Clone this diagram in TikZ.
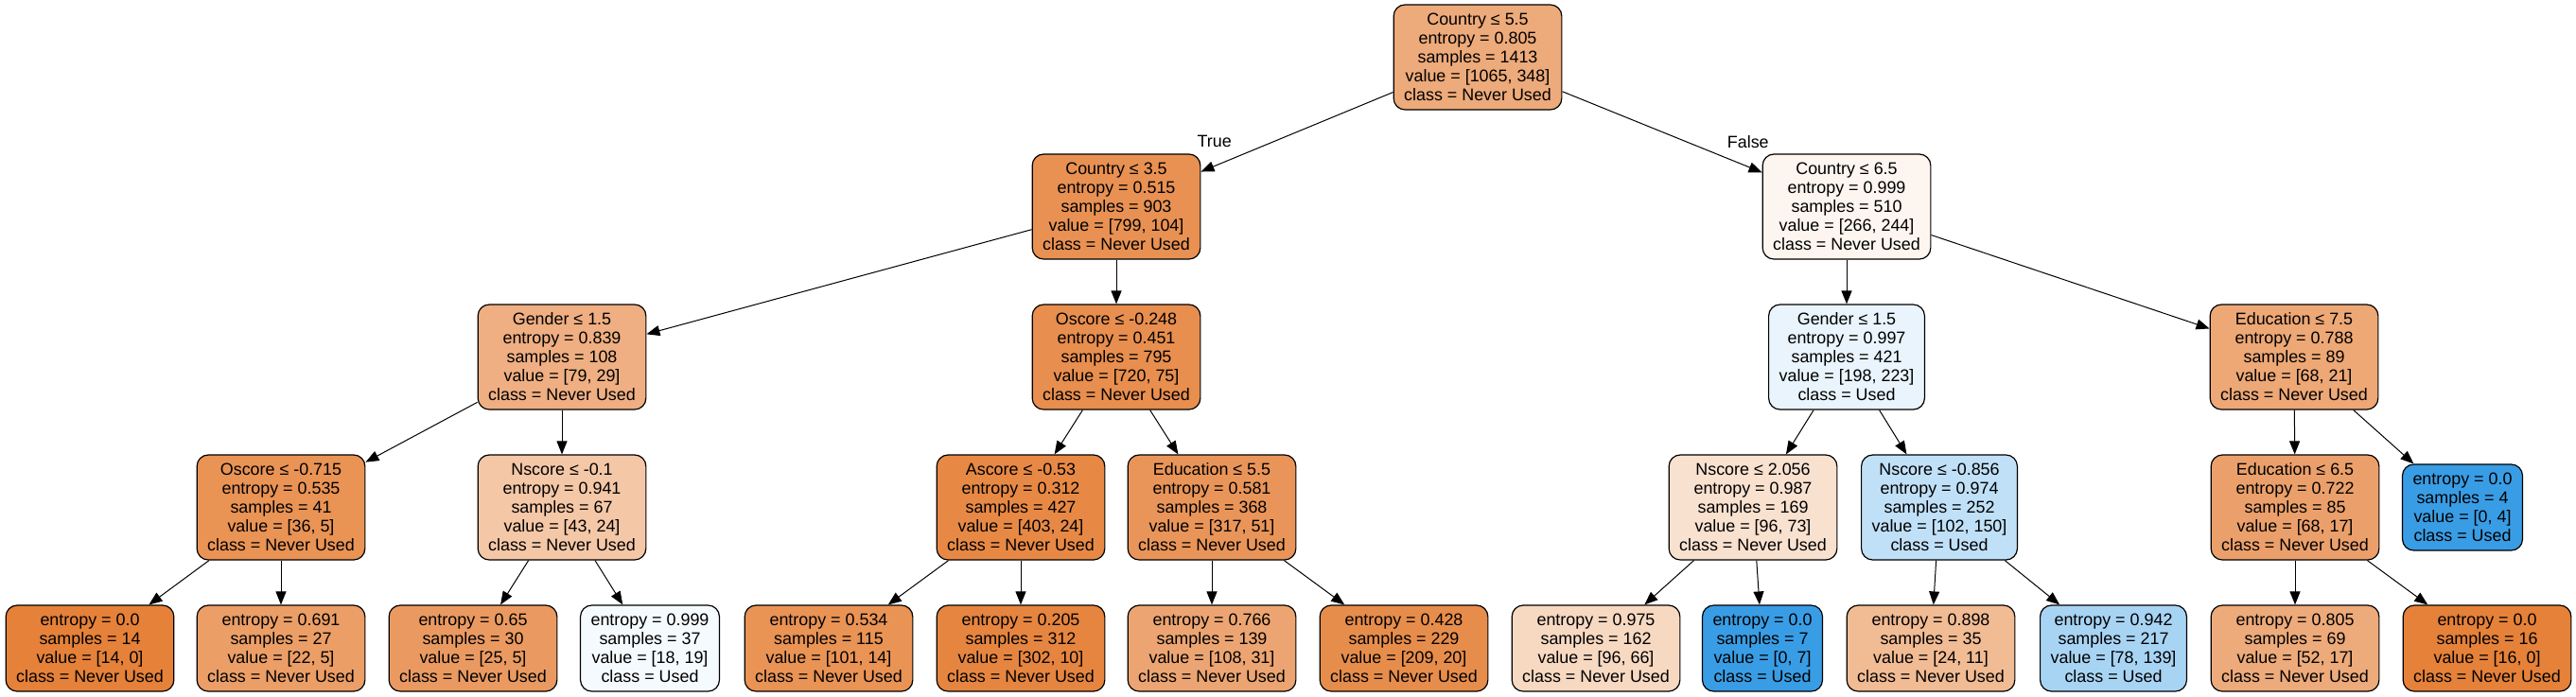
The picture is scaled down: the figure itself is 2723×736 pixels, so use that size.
\documentclass[tikz,border=0pt]{standalone}
\usepackage{fontspec}
\setmainfont{Liberation Sans}
\usepackage{xcolor}
\usetikzlibrary{arrows.meta}
\definecolor{neverColor}{RGB}{229,129,57}
\definecolor{usedColor}{RGB}{57,157,229}

\begin{document}
\begin{tikzpicture}[
    x=0.5pt, y=-0.5pt,
    font=\fontsize{8.95}{10}\selectfont,
    split/.style={
        rectangle,
        rounded corners=6pt,
        draw=black,
        line width=0.6pt,
        align=center,
        inner xsep=5.5pt,
        inner ysep=0pt,
        minimum height=55.5pt
    },
    leaf/.style={
        split,
        minimum height=45.5pt
    },
    flecha/.style={
        -{Triangle[length=7pt,width=5.5pt]},
        line width=0.5pt
    }
]
    \useasboundingbox (0,0) rectangle (2723,736);

    % level 0 and 1
    \node[split, fill=neverColor!67.3] (country55) at (1562,60.5) {Country ≤ 5.5\\entropy = 0.805\\samples = 1413\\value = [1065, 348]\\class = Never Used};
    \node[split, fill=neverColor!87.0] (country35) at (1180,218.5) {Country ≤ 3.5\\entropy = 0.515\\samples = 903\\value = [799, 104]\\class = Never Used};
    \node[split, fill=neverColor!8.3] (country65) at (1952,218.5) {Country ≤ 6.5\\entropy = 0.999\\samples = 510\\value = [266, 244]\\class = Never Used};

    % level 2
    \node[split, fill=neverColor!63.3] (gender15a) at (594,377.5) {Gender ≤ 1.5\\entropy = 0.839\\samples = 108\\value = [79, 29]\\class = Never Used};
    \node[split, fill=neverColor!89.6] (oscore248) at (1180,377.5) {Oscore ≤ -0.248\\entropy = 0.451\\samples = 795\\value = [720, 75]\\class = Never Used};
    \node[split, fill=usedColor!11.2] (gender15b) at (1952,377.5) {Gender ≤ 1.5\\entropy = 0.997\\samples = 421\\value = [198, 223]\\class = Used};
    \node[split, fill=neverColor!69.1] (edu75) at (2425,377.5) {Education ≤ 7.5\\entropy = 0.788\\samples = 89\\value = [68, 21]\\class = Never Used};

    % level 3
    \node[split, fill=neverColor!86.1] (oscore715) at (297,536.5) {Oscore ≤ -0.715\\entropy = 0.535\\samples = 41\\value = [36, 5]\\class = Never Used};
    \node[split, fill=neverColor!44.2] (nscore01) at (594,536.5) {Nscore ≤ -0.1\\entropy = 0.941\\samples = 67\\value = [43, 24]\\class = Never Used};
    \node[split, fill=neverColor!94.0] (ascore053) at (1079,536.5) {Ascore ≤ -0.53\\entropy = 0.312\\samples = 427\\value = [403, 24]\\class = Never Used};
    \node[split, fill=neverColor!83.9] (edu55) at (1281,536.5) {Education ≤ 5.5\\entropy = 0.581\\samples = 368\\value = [317, 51]\\class = Never Used};
    \node[split, fill=neverColor!24.0] (nscore2056) at (1853,536.5) {Nscore ≤ 2.056\\entropy = 0.987\\samples = 169\\value = [96, 73]\\class = Never Used};
    \node[split, fill=usedColor!32.0] (nscore0856) at (2050,536.5) {Nscore ≤ -0.856\\entropy = 0.974\\samples = 252\\value = [102, 150]\\class = Used};
    \node[split, fill=neverColor!75.0] (edu65) at (2426,536.5) {Education ≤ 6.5\\entropy = 0.722\\samples = 85\\value = [68, 17]\\class = Never Used};
    \node[leaf, fill=usedColor] (leaf15) at (2603,536.5) {entropy = 0.0\\samples = 4\\value = [0, 4]\\class = Used};

    % level 4
    \node[leaf, fill=neverColor] (leaf1) at (95,685.5) {entropy = 0.0\\samples = 14\\value = [14, 0]\\class = Never Used};
    \node[leaf, fill=neverColor!77.3] (leaf2) at (297,685.5) {entropy = 0.691\\samples = 27\\value = [22, 5]\\class = Never Used};
    \node[leaf, fill=neverColor!80.0] (leaf3) at (500,685.5) {entropy = 0.65\\samples = 30\\value = [25, 5]\\class = Never Used};
    \node[leaf, fill=usedColor!5.3] (leaf4) at (687,685.5) {entropy = 0.999\\samples = 37\\value = [18, 19]\\class = Used};
    \node[leaf, fill=neverColor!86.1] (leaf5) at (876,685.5) {entropy = 0.534\\samples = 115\\value = [101, 14]\\class = Never Used};
    \node[leaf, fill=neverColor!96.7] (leaf6) at (1079,685.5) {entropy = 0.205\\samples = 312\\value = [302, 10]\\class = Never Used};
    \node[leaf, fill=neverColor!71.3] (leaf7) at (1281,685.5) {entropy = 0.766\\samples = 139\\value = [108, 31]\\class = Never Used};
    \node[leaf, fill=neverColor!90.4] (leaf8) at (1484,685.5) {entropy = 0.428\\samples = 229\\value = [209, 20]\\class = Never Used};
    \node[leaf, fill=neverColor!31.3] (leaf9) at (1687,685.5) {entropy = 0.975\\samples = 162\\value = [96, 66]\\class = Never Used};
    \node[leaf, fill=usedColor] (leaf10) at (1863,685.5) {entropy = 0.0\\samples = 7\\value = [0, 7]\\class = Used};
    \node[leaf, fill=neverColor!54.2] (leaf11) at (2041,685.5) {entropy = 0.898\\samples = 35\\value = [24, 11]\\class = Never Used};
    \node[leaf, fill=usedColor!43.9] (leaf12) at (2234,685.5) {entropy = 0.942\\samples = 217\\value = [78, 139]\\class = Used};
    \node[leaf, fill=neverColor!67.3] (leaf13) at (2426,685.5) {entropy = 0.805\\samples = 69\\value = [52, 17]\\class = Never Used};
    \node[leaf, fill=neverColor] (leaf14) at (2629,685.5) {entropy = 0.0\\samples = 16\\value = [16, 0]\\class = Never Used};

    \draw[flecha] (country55) -- node[pos=0.93, yshift=13pt] {True} (country35);
    \draw[flecha] (country55) -- node[pos=0.93, yshift=13pt] {False} (country65);
    \draw[flecha] (country35) -- (gender15a);
    \draw[flecha] (country35) -- (oscore248);
    \draw[flecha] (gender15a) -- (oscore715);
    \draw[flecha] (gender15a) -- (nscore01);
    \draw[flecha] (oscore715) -- (leaf1);
    \draw[flecha] (oscore715) -- (leaf2);
    \draw[flecha] (nscore01) -- (leaf3);
    \draw[flecha] (nscore01) -- (leaf4);
    \draw[flecha] (oscore248) -- (ascore053);
    \draw[flecha] (oscore248) -- (edu55);
    \draw[flecha] (ascore053) -- (leaf5);
    \draw[flecha] (ascore053) -- (leaf6);
    \draw[flecha] (edu55) -- (leaf7);
    \draw[flecha] (edu55) -- (leaf8);
    \draw[flecha] (country65) -- (gender15b);
    \draw[flecha] (country65) -- (edu75);
    \draw[flecha] (gender15b) -- (nscore2056);
    \draw[flecha] (gender15b) -- (nscore0856);
    \draw[flecha] (nscore2056) -- (leaf9);
    \draw[flecha] (nscore2056) -- (leaf10);
    \draw[flecha] (nscore0856) -- (leaf11);
    \draw[flecha] (nscore0856) -- (leaf12);
    \draw[flecha] (edu75) -- (edu65);
    \draw[flecha] (edu75) -- (leaf15);
    \draw[flecha] (edu65) -- (leaf13);
    \draw[flecha] (edu65) -- (leaf14);

\end{tikzpicture}
\end{document}
